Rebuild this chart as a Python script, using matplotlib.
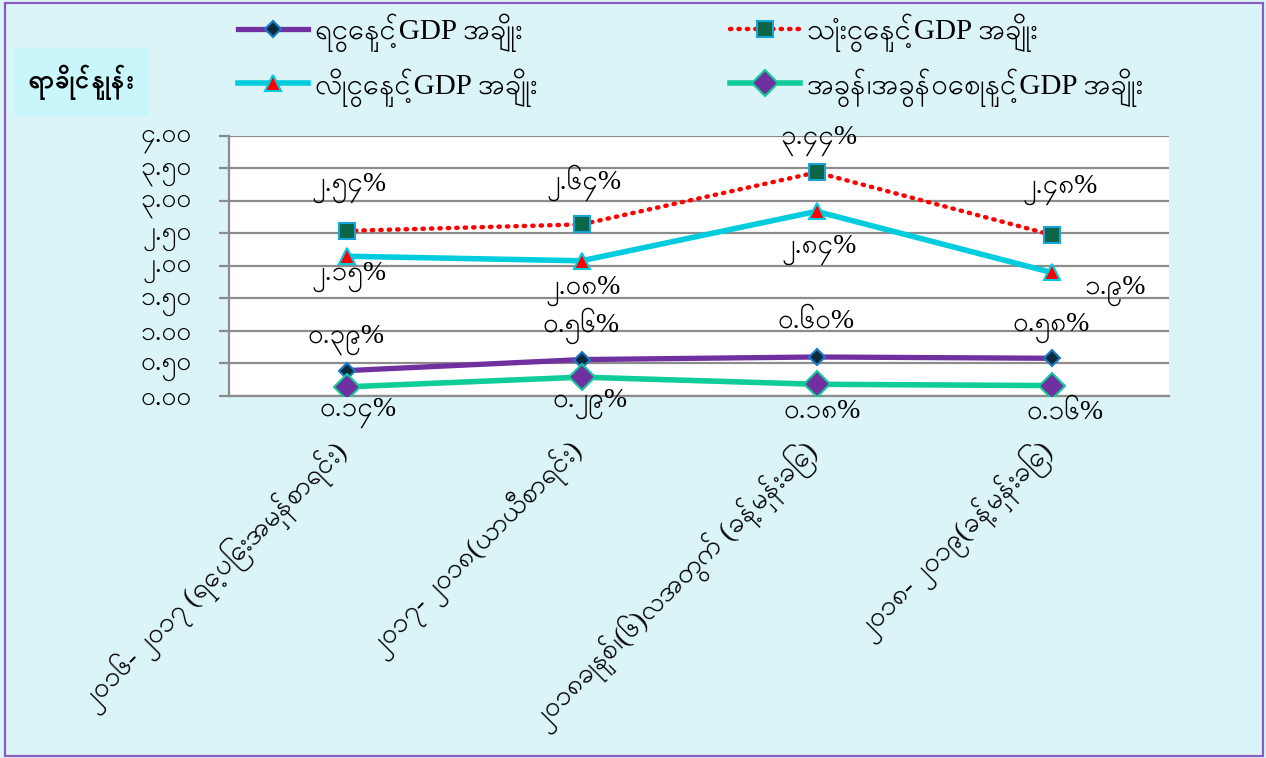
import matplotlib
matplotlib.use("Agg")
import matplotlib.pyplot as plt
from matplotlib.patches import Rectangle
from matplotlib.ticker import FuncFormatter, MultipleLocator

plt.rcParams['font.family'] = ['Liberation Serif', 'Padauk']

# data
categories = ["၂၀၁၆- ၂၀၁၇ (ရှေ့ပြေးအမှန်စာရင်း)",
              "၂၀၁၇- ၂၀၁၈(ယာယီစာရင်း)",
              "၂၀၁၈ခုနှစ်၊(၆)လအတွက် (ခန့်မှန်းခြေ)",
              "၂၀၁၈- ၂၀၁၉(ခန့်မှန်းခြေ)"]
series_names = ["ရငွေနှင့်GDP အချိုး",
                "သုံးငွေနှင့်GDP အချိုး",
                "လိုငွေနှင့်GDP အချိုး",
                "အခွန်၊အခွန်ဝေစုနှင့်GDP အချိုး"]
revenue = [0.39, 0.56, 0.60, 0.58]
expense = [2.54, 2.64, 3.44, 2.48]
deficit = [2.15, 2.08, 2.84, 1.90]
tax = [0.14, 0.29, 0.18, 0.16]
revenue_lbl = ["၀.၃၉%", "၀.၅၆%", "၀.၆၀%", "၀.၅၈%"]
expense_lbl = ["၂.၅၄%", "၂.၆၄%", "၃.၄၄%", "၂.၄၈%"]
deficit_lbl = ["၂.၁၅%", "၂.၀၈%", "၂.၈၄%", "၁.၉%"]
tax_lbl = ["၀.၁၄%", "၀.၂၉%", "၀.၁၈%", "၀.၁၆%"]
unit_label = "ရာခိုင်နှုန်း"

MM = str.maketrans("0123456789", "၀၁၂၃၄၅၆၇၈၉")

def mm_fmt(v, pos):
    return ("%.2f" % v).translate(MM)

bg = "#DBF4F8"
fig = plt.figure(figsize=(12.66, 7.58), dpi=100, facecolor=bg)
fig.patches.append(Rectangle((0.004, 0.002), 0.994, 0.994, transform=fig.transFigure,
                             fill=False, ec="#8B5CC0", lw=1.6))

ax = fig.add_axes([0.1809, 0.4776, 0.7425, 0.343])
ax.set_facecolor("white")
x = range(len(categories))

l1, = ax.plot(x, revenue, color="#7030A0", lw=3.8, marker="D", ms=8,
              mfc="#0B2A3A", mec="#1A78C8", mew=1.5, zorder=5)
l2, = ax.plot(x, expense, color="#FF0000", lw=3.2, ls=(0, (0.3, 1.6)),
              dash_capstyle="round", marker="s", ms=11,
              mfc="#0B6648", mec="#1AA3D6", mew=1.5, zorder=5)
l3, = ax.plot(x, deficit, color="#00CCDD", lw=4.0, marker="^", ms=11,
              mfc="#FF0000", mec="#00CCDD", mew=1.5, zorder=5)
l4, = ax.plot(x, tax, color="#10CC99", lw=4.0, marker="D", ms=13,
              mfc="#7030A0", mec="#10CC99", mew=1.5, zorder=5)

ax.set_xlim(-0.5, 3.5)
ax.set_ylim(0, 4)
ax.yaxis.set_major_locator(MultipleLocator(0.5))
ax.yaxis.set_major_formatter(FuncFormatter(mm_fmt))
ax.grid(axis="y", color="#8C8C8C", lw=1.6)
ax.set_axisbelow(True)
for s in ["top", "right"]:
    ax.spines[s].set_visible(False)
ax.spines["left"].set_color("#8C8C8C")
ax.spines["left"].set_linewidth(1.6)
ax.spines["bottom"].set_color("#8C8C8C")
ax.spines["bottom"].set_linewidth(1.6)
ax.tick_params(axis="y", length=7, width=1.6, color="#8C8C8C", labelsize=19, pad=20)
ax.tick_params(axis="x", length=0)
ax.set_xticks(list(x))
ax.set_xticklabels([])

# category labels, rotated
for i, c in enumerate(categories):
    ax.annotate(c, (i, 0), xycoords="data", xytext=(-2, -37), textcoords="offset points",
                rotation=45, rotation_mode="anchor", ha="right", va="center", fontsize=20)

# data labels
def put_labels(vals, lbls, offs):
    for i, (v, t) in enumerate(zip(vals, lbls)):
        ax.annotate(t, (i, v), xytext=offs[i], textcoords="offset points",
                    ha="center", va="center", fontsize=20)

put_labels(revenue, revenue_lbl, [(0, 22), (0, 24), (0, 26), (0, 22)])
put_labels(expense, expense_lbl, [(2, 31), (2, 30), (2, 23), (6, 32)])
put_labels(deficit, deficit_lbl, [(2, -15), (1, -22), (2, -28), (46, -13)])
put_labels(tax, tax_lbl, [(8, -19), (6, -19), (4, -19), (10, -19)])

# unit box
fig.patches.append(Rectangle((14 / 1266, 1 - 116 / 758), 135 / 1266, 68 / 758,
                             transform=fig.transFigure, fc="#C8F6FA", ec="none"))
fig.text(81 / 1266, 1 - 82 / 758, unit_label, ha="center", va="center",
         fontsize=19, fontweight="bold")

leg = fig.legend([l1, l3, l2, l4], [series_names[0], series_names[2], series_names[1], series_names[3]],
                 ncol=2, loc="upper left", bbox_to_anchor=(226 / 1266, 1 - 2 / 758),
                 frameon=False, fontsize=21, handlelength=2.4, handletextpad=0.25,
                 columnspacing=6.6, labelspacing=0.55, borderaxespad=0)

fig.savefig("out.png", dpi=100, facecolor=bg)
